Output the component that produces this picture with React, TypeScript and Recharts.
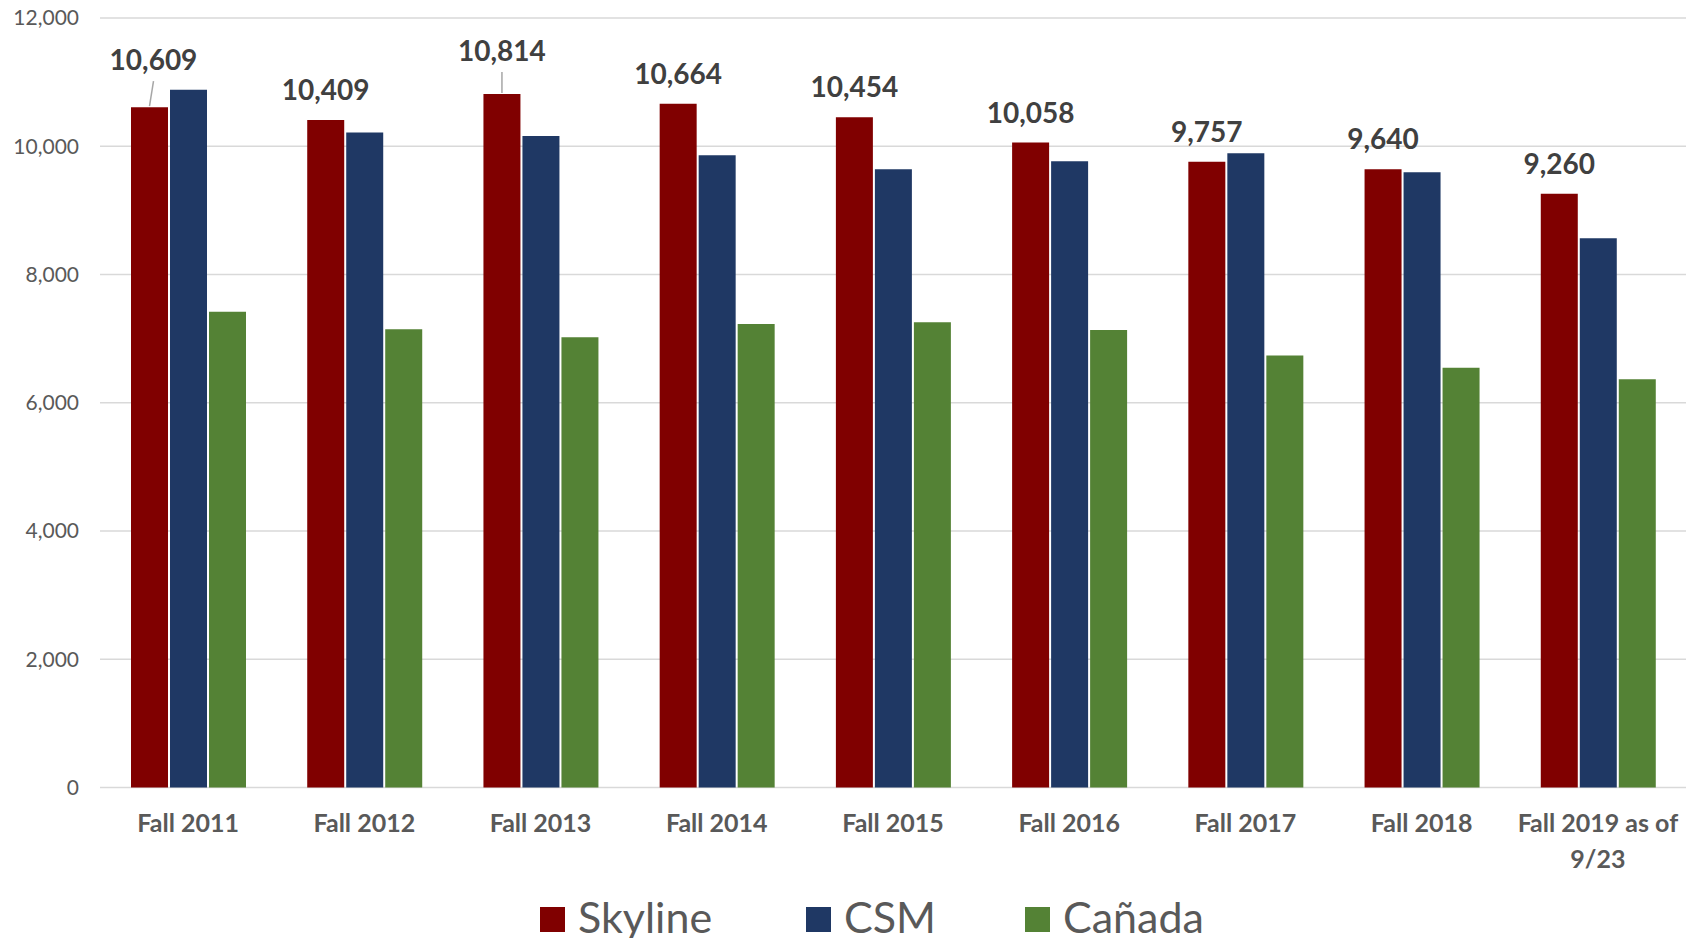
import React from "react";
import { BarChart, Bar, XAxis, YAxis, CartesianGrid, LabelList, Legend } from "recharts";

const categories = [
  "Fall 2011",
  "Fall 2012",
  "Fall 2013",
  "Fall 2014",
  "Fall 2015",
  "Fall 2016",
  "Fall 2017",
  "Fall 2018",
  "Fall 2019 as of 9/23",
];
const skyline = [10609, 10409, 10814, 10664, 10454, 10058, 9757, 9640, 9260];
const csm = [10880, 10215, 10160, 9860, 9640, 9765, 9890, 9595, 8565];
const canada = [7420, 7145, 7020, 7230, 7255, 7135, 6735, 6545, 6365];
const yTicks = [0, 2000, 4000, 6000, 8000, 10000, 12000];
const seriesNames = ["Skyline", "CSM", "Cañada"];

const COLORS = ["#800000", "#1f3864", "#548235"];
const FONT = "Lato, 'Open Sans', sans-serif";
const labelNudge: Record<string, { lift: number; dx: number }> = {
  "Fall 2011": { lift: 17, dx: 4 },
  "Fall 2013": { lift: 13, dx: 0 },
};

const data = categories.map((c, i) => ({
  category: c,
  skyline: skyline[i],
  csm: csm[i],
  canada: canada[i],
}));

const fmt = (v: number) => v.toLocaleString("en-US");

function wrapWords(s: string, maxChars: number): string[] {
  const words = s.split(" ");
  const lines: string[] = [];
  let cur = "";
  for (const w of words) {
    const next = cur ? cur + " " + w : w;
    if (next.length > maxChars && cur) {
      lines.push(cur);
      cur = w;
    } else {
      cur = next;
    }
  }
  if (cur) lines.push(cur);
  return lines;
}

const SkylineLabel = (props: any) => {
  const { x, y, width, value, index } = props;
  const cx = Number(x) + Number(width) / 2;
  const top = Number(y);
  const nudge = labelNudge[categories[index]];
  const lift = nudge ? nudge.lift : 0;
  const dx = nudge ? nudge.dx : 0;
  const ly = top - 31 - lift;
  return (
    <g>
      {nudge && (
        <line x1={cx} y1={top - 1} x2={cx + dx} y2={ly + 22} stroke="#a6a6a6" strokeWidth={1.5} />
      )}
      <text
        x={cx + dx}
        y={ly}
        textAnchor="middle"
        dominantBaseline="central"
        fontFamily={FONT}
        fontWeight={700}
        fontSize={28}
        fill="#404040"
      >
        {fmt(Number(value))}
      </text>
    </g>
  );
};

const XTick = (props: any) => {
  const { x, y, payload } = props;
  const lines = wrapWords(String(payload.value), 15);
  const baseY = Number(y) + 44.5;
  return (
    <text
      x={x}
      y={baseY}
      textAnchor="middle"
      fontFamily={FONT}
      fontWeight={700}
      fontSize={25}
      fill="#595959"
    >
      {lines.map((ln, i) => (
        <tspan key={i} x={x} y={baseY + i * 36}>
          {ln}
        </tspan>
      ))}
    </text>
  );
};

const legendLefts = [540, 806, 1025];

const LegendContent = () => (
  <div style={{ position: "relative", width: 1686, height: 50 }}>
    {seriesNames.map((name, i) => (
      <div key={name}>
        <div
          style={{
            position: "absolute",
            left: legendLefts[i],
            top: 19,
            width: 25,
            height: 25,
            background: COLORS[i],
          }}
        />
        <span
          style={{
            position: "absolute",
            left: legendLefts[i] + 38,
            top: 3,
            fontFamily: FONT,
            fontSize: 43,
            lineHeight: "51.6px",
            color: "#595959",
            whiteSpace: "nowrap",
          }}
        >
          {name}
        </span>
      </div>
    ))}
  </div>
);

export default function App() {
  return (
    <div
      style={{
        position: "absolute",
        left: 0,
        top: 0,
        width: 1686,
        height: 938,
        overflow: "hidden",
        background: "#ffffff",
      }}
    >
      <BarChart
        width={1686}
        height={938}
        data={data}
        margin={{ top: 18, right: 0, left: 0, bottom: 70.5 }}
        barSize={37}
        barGap={2}
      >
        <CartesianGrid vertical={false} stroke="#d9d9d9" strokeWidth={1.5} />
        <XAxis
          dataKey="category"
          height={80}
          tickLine={false}
          axisLine={false}
          tickSize={0}
          tickMargin={0}
          interval={0}
          tick={<XTick />}
        />
        <YAxis
          width={100}
          domain={[0, 12000]}
          ticks={yTicks}
          tickFormatter={fmt}
          tickLine={false}
          axisLine={false}
          tickSize={0}
          tickMargin={21}
          tick={{ fill: "#595959", fontSize: 21, fontFamily: FONT }}
        />
        <Legend
          layout="horizontal"
          verticalAlign="middle"
          align="center"
          wrapperStyle={{ top: 888, left: 0, width: 1686, height: 50 }}
          content={<LegendContent />}
        />
        <Bar dataKey="skyline" name="Skyline" fill={COLORS[0]} isAnimationActive={false}>
          <LabelList dataKey="skyline" content={<SkylineLabel />} />
        </Bar>
        <Bar dataKey="csm" name="CSM" fill={COLORS[1]} isAnimationActive={false} />
        <Bar dataKey="canada" name="Cañada" fill={COLORS[2]} isAnimationActive={false} />
      </BarChart>
    </div>
  );
}
